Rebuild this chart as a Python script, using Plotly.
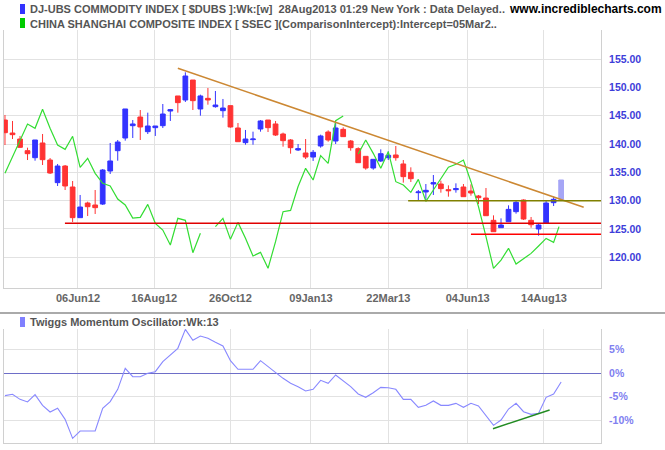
import pandas as pd
import plotly.graph_objects as go

# ---------------- data ----------------
week_dates = pd.date_range("2012-03-30", periods=74, freq="7D")

dubs_open = [144.25, 141.95, 140.89, 138.83, 137.59, 140.19, 137.18, 133.18, 136.12, 132.41,
             126.99, 129.58, 129.23, 129.40, 135.24, 138.83, 141.07, 143.25, 144.78, 142.19,
             142.90, 143.25, 145.84, 148.50, 147.79, 151.32, 146.20, 148.08, 146.61, 145.90,
             146.79, 142.84, 140.25, 140.78, 142.66, 144.25, 143.55, 141.78, 140.72, 138.95,
             138.42, 137.71, 139.66, 142.13, 140.54, 142.60, 140.54, 139.19, 137.83, 135.77,
             137.01, 137.59, 138.07, 136.48, 135.00, 131.41, 131.53, 132.94, 132.94, 131.94,
             131.94, 132.41, 131.70, 130.82, 130.46, 126.52, 125.22, 126.28, 128.05, 130.11,
             126.52, 124.99, 125.99, 129.64]
dubs_close = [142.01, 141.66, 139.42, 138.30, 140.72, 137.24, 134.88, 136.12, 132.59, 126.99,
              128.87, 128.93, 128.76, 135.41, 137.01, 140.36, 146.20, 143.55, 143.02, 143.19,
              143.19, 145.31, 146.08, 147.32, 152.03, 147.67, 148.50, 147.79, 146.90, 146.37,
              143.02, 140.42, 140.89, 140.89, 144.08, 142.90, 141.60, 140.60, 139.36, 139.19,
              137.71, 138.54, 141.43, 140.72, 142.84, 141.31, 139.36, 136.71, 135.77, 137.30,
              138.30, 138.01, 137.59, 134.24, 133.88, 131.53, 131.82, 133.18, 132.12, 131.76,
              132.12, 130.70, 131.35, 130.52, 127.34, 124.51, 125.69, 128.46, 129.70, 126.75,
              125.75, 125.69, 129.58, 130.23]
dubs_high = [145.14, 144.08, 141.43, 139.36, 140.72, 141.78, 137.53, 136.48, 136.30, 133.47,
             131.00, 129.82, 131.88, 135.59, 140.19, 140.72, 146.20, 144.25, 146.02, 145.55,
             143.19, 147.08, 146.20, 148.50, 152.68, 151.32, 148.73, 149.91, 149.38, 147.97,
             146.79, 143.72, 142.49, 142.19, 144.25, 144.25, 144.08, 142.02, 140.89, 140.01,
             140.89, 138.95, 141.66, 142.43, 143.90, 142.96, 140.72, 139.42, 137.83, 137.30,
             139.07, 138.71, 139.66, 137.18, 135.89, 131.88, 132.94, 134.53, 133.53, 132.70,
             133.06, 132.94, 132.88, 131.00, 132.23, 127.40, 126.87, 129.17, 129.93, 130.23,
             127.11, 125.99, 129.93, 130.70]
dubs_low = [139.83, 140.89, 139.30, 137.18, 137.06, 136.30, 134.71, 132.59, 131.88, 126.22,
            126.99, 127.28, 127.64, 129.23, 134.71, 137.06, 140.60, 141.07, 140.72, 141.78,
            141.43, 142.84, 144.08, 145.55, 147.44, 146.02, 145.02, 146.96, 146.43, 144.67,
            142.90, 140.42, 139.89, 139.89, 142.19, 142.13, 141.43, 139.54, 138.30, 138.77,
            137.36, 137.01, 139.36, 140.42, 140.01, 141.25, 138.83, 136.71, 135.47, 135.47,
            136.83, 137.18, 137.06, 133.18, 133.29, 129.99, 129.99, 131.00, 131.41, 130.70,
            131.41, 130.70, 130.88, 129.40, 127.34, 124.51, 125.22, 126.28, 127.70, 126.58,
            125.22, 123.81, 125.99, 129.05]

# current (incomplete) week bar
ghost_date = ["2013-08-30"]
ghost_low = [130.23]
ghost_high = [133.65]

# Shanghai Composite, comparison-intercept scaled onto the price axis
ssec_dates = list(week_dates) + [pd.Timestamp("2013-08-28")]
ssec_values = [134.83, 137.77, 140.72, 143.55, 142.78, 146.14, 142.78, 139.83, 139.07, 141.37,
               135.89, 137.48, 134.83, 133.06, 132.59, 130.29, 129.23, 126.93, 127.05, 129.34,
               125.99, 124.81, 122.16, 126.87, 126.52, 120.80, 124.22, None, 125.40, 126.87,
               123.16, 126.16, 123.34, 120.21, 120.86, 118.03, 122.75, 128.05, 128.28, 132.50,
               135.71, 133.65, 137.95, 136.59, 144.14, 144.96, None, 138.24, 140.72, 138.36,
               135.71, 138.65, 133.35, 132.76, 131.47, 133.76, 129.88, 131.88, 133.82, 135.90,
               136.42, 137.18, 133.35, 128.93, 123.63, 118.03, 119.50, 121.57, 118.80, 119.74,
               120.68, 121.98, 123.33, 122.63, 125.40]

# Twiggs Momentum Oscillator (%)
tmo_dates = pd.date_range("2012-03-30", periods=75, freq="7D")
tmo_values = [-4.80, -4.52, -5.58, -6.14, -4.59, -6.85, -8.26, -7.48, -9.82, -13.84,
              -12.29, -12.29, -12.29, -7.48, -6.07, -3.46, 0.99, -0.78, -0.78, -0.07,
              0.28, 2.40, 3.74, 5.23, 9.25, 6.92, 7.84, 7.35, 6.50, 5.72,
              2.61, 0.78, 0.78, 0.78, 2.61, 1.34, 0.07, -1.13, -2.19, -2.90,
              -3.81, -3.46, -1.55, -2.19, -0.42, -1.62, -2.89, -4.45, -5.15, -4.17,
              -3.04, -3.11, -3.46, -5.58, -5.58, -7.27, -6.85, -5.93, -6.85, -6.85,
              -6.43, -7.27, -6.43, -6.99, -9.11, -11.09, -9.96, -7.63, -6.43, -8.19,
              -8.76, -8.54, -5.15, -4.45, -1.91]

# drawn lines (start/end points)
trend_down_x = ["2012-09-07", "2013-09-20"]
trend_down_y = [153.4, 128.82]
olive_x = ["2013-04-09 12:00", "2013-10-12"]
olive_y = [130.0, 130.0]
red1_x = ["2012-05-24 20:00", "2013-10-12"]
red1_y = [125.99, 125.99]
red2_x = ["2013-06-07", "2013-10-12"]
red2_y = [124.04, 124.04]
tmo_trend_x = ["2013-06-27 12:00", "2013-08-19 06:00"]
tmo_trend_y = [-11.8, -7.84]

tick_dates = ["2012-06-06", "2012-08-16", "2012-10-26", "2013-01-09",
              "2013-03-22", "2013-06-04", "2013-08-14"]
tick_text = ["06Jun12", "16Aug12", "26Oct12", "09Jan13", "22Mar13", "04Jun13", "14Aug13"]
price_ticks = [120, 125, 130, 135, 140, 145, 150, 155]
tmo_ticks = [-10, -5, 0, 5]

# ---------------- figure ----------------
W, H = 665, 450
ML, MR = 4, 64
PW = W - ML - MR


def px_x(p):
    return (p - ML) / PW


def px_y(p):
    return (H - p) / H


BLUE = "#3333ff"
RED = "#ff3333"
GRID = "#e2e2e2"
BORDER = "#d0d0d0"

fig = go.Figure()

fig.add_trace(go.Candlestick(
    x=week_dates, open=dubs_open, high=dubs_high, low=dubs_low, close=dubs_close,
    increasing=dict(line=dict(color=BLUE, width=1), fillcolor=BLUE),
    decreasing=dict(line=dict(color=RED, width=1), fillcolor=RED),
    xaxis="x", yaxis="y", hoverinfo="skip"))

fig.add_trace(go.Candlestick(
    x=ghost_date, open=ghost_low, high=ghost_high, low=ghost_low, close=ghost_high,
    increasing=dict(line=dict(color="#a6a6f6", width=1), fillcolor="#a6a6f6"),
    decreasing=dict(line=dict(color="#a6a6f6", width=1), fillcolor="#a6a6f6"),
    xaxis="x", yaxis="y", hoverinfo="skip"))

fig.add_trace(go.Scatter(x=ssec_dates, y=ssec_values, mode="lines",
                         line=dict(color="#33dd33", width=1.2), connectgaps=False,
                         xaxis="x", yaxis="y", hoverinfo="skip"))

for xs, ys, col in [(trend_down_x, trend_down_y, "#cc8833"),
                    (olive_x, olive_y, "#808000"),
                    (red1_x, red1_y, "#e00000"),
                    (red2_x, red2_y, "#ff0000")]:
    fig.add_trace(go.Scatter(x=xs, y=ys, mode="lines", line=dict(color=col, width=1.5),
                             xaxis="x", yaxis="y", hoverinfo="skip"))

fig.add_trace(go.Scatter(x=tmo_dates, y=tmo_values, mode="lines",
                         line=dict(color="#8888ff", width=1.1),
                         xaxis="x2", yaxis="y2", hoverinfo="skip"))
fig.add_trace(go.Scatter(x=tmo_trend_x, y=tmo_trend_y, mode="lines",
                         line=dict(color="#228b22", width=1.5),
                         xaxis="x2", yaxis="y2", hoverinfo="skip"))

x_range = ["2012-03-29 02:00", "2013-10-06 03:00"]
lab_font = dict(family="Liberation Sans, Arial, sans-serif", size=11, color="#666666")

fig.update_layout(
    width=W, height=H,
    margin=dict(l=ML, r=MR, t=0, b=0),
    paper_bgcolor="white", plot_bgcolor="white",
    showlegend=False,
    boxgap=0.1,
    xaxis=dict(domain=[0, 1], anchor="y", type="date", range=x_range,
               rangeslider=dict(visible=False),
               tickmode="array", tickvals=tick_dates, ticktext=tick_text,
               tickfont=dict(family="Liberation Sans, Arial, sans-serif", size=11,
                             color="#666666", weight="bold"),
               showgrid=True, gridcolor=GRID, gridwidth=1,
               showline=True, linecolor=BORDER, linewidth=1,
               ticks="", zeroline=False, fixedrange=True),
    yaxis=dict(domain=[px_y(288), px_y(30)], anchor="x", side="right",
               range=[114.56, 160.16],
               tickmode="array", tickvals=price_ticks,
               ticktext=["%.2f" % v for v in price_ticks],
               tickfont=dict(family="Liberation Sans, Arial, sans-serif", size=10.5,
                             color="#3d3dd9", weight="bold"),
               showgrid=True, gridcolor=GRID, gridwidth=1,
               showline=True, mirror=True, linecolor=BORDER, linewidth=1,
               ticks="", ticklabelstandoff=5, zeroline=False),
    xaxis2=dict(domain=[0, 1], anchor="y2", type="date", range=x_range, matches="x",
                tickmode="array", tickvals=tick_dates, showticklabels=False,
                showgrid=True, gridcolor=GRID, gridwidth=1,
                showline=True, linecolor=BORDER, linewidth=1,
                ticks="", zeroline=False),
    yaxis2=dict(domain=[px_y(443), px_y(329)], anchor="x2", side="right",
                range=[-14.83, 9.32],
                tickmode="array", tickvals=tmo_ticks,
                ticktext=["%d%%" % v for v in tmo_ticks],
                tickfont=dict(family="Liberation Sans, Arial, sans-serif", size=10.5,
                              color="#8080f0", weight="bold"),
                showgrid=True, gridcolor=GRID, gridwidth=1,
                zeroline=True, zerolinecolor="#6e6ec8", zerolinewidth=1.3,
                showline=True, mirror=True, linecolor=BORDER, linewidth=1,
                ticks="", ticklabelstandoff=5),
)

# panel separator
fig.add_shape(type="line", xref="paper", yref="paper",
              x0=px_x(0), x1=px_x(W), y0=px_y(313), y1=px_y(313),
              line=dict(color="#aaaaaa", width=2))

# legend squares
for y0, y1, col in [(4, 14, "#3333ff"), (18, 28, "#00cc00"), (317, 327, "#8080ff")]:
    fig.add_shape(type="rect", xref="paper", yref="paper",
                  x0=px_x(20), x1=px_x(25), y0=px_y(y1), y1=px_y(y0),
                  fillcolor=col, line=dict(width=0))

legend_font = dict(family="Liberation Sans, Arial, sans-serif", size=11,
                   color="#555555", weight="bold")
fig.add_annotation(xref="paper", yref="paper", x=px_x(28), y=px_y(9.5),
                   xanchor="left", yanchor="middle", showarrow=False,
                   text="DJ-UBS COMMODITY INDEX [ $DUBS ]:Wk:[w]  28Aug2013 01:29 New York : Data Delayed..",
                   font=legend_font)
fig.add_annotation(xref="paper", yref="paper", x=px_x(28), y=px_y(24),
                   xanchor="left", yanchor="middle", showarrow=False,
                   text="CHINA SHANGHAI COMPOSITE INDEX [ SSEC ](ComparisonIntercept):Intercept=05Mar2..",
                   font=legend_font)
fig.add_annotation(xref="paper", yref="paper", x=px_x(507), y=px_y(9),
                   xanchor="left", yanchor="middle", showarrow=False,
                   text="www.incrediblecharts.com",
                   font=dict(family="Liberation Sans, Arial, sans-serif", size=12,
                             color="#000000", weight="bold"))
fig.add_annotation(xref="paper", yref="paper", x=px_x(28), y=px_y(322),
                   xanchor="left", yanchor="middle", showarrow=False,
                   text="Twiggs Momentum Oscillator:Wk:13",
                   font=legend_font)

fig.write_html("out.html")
